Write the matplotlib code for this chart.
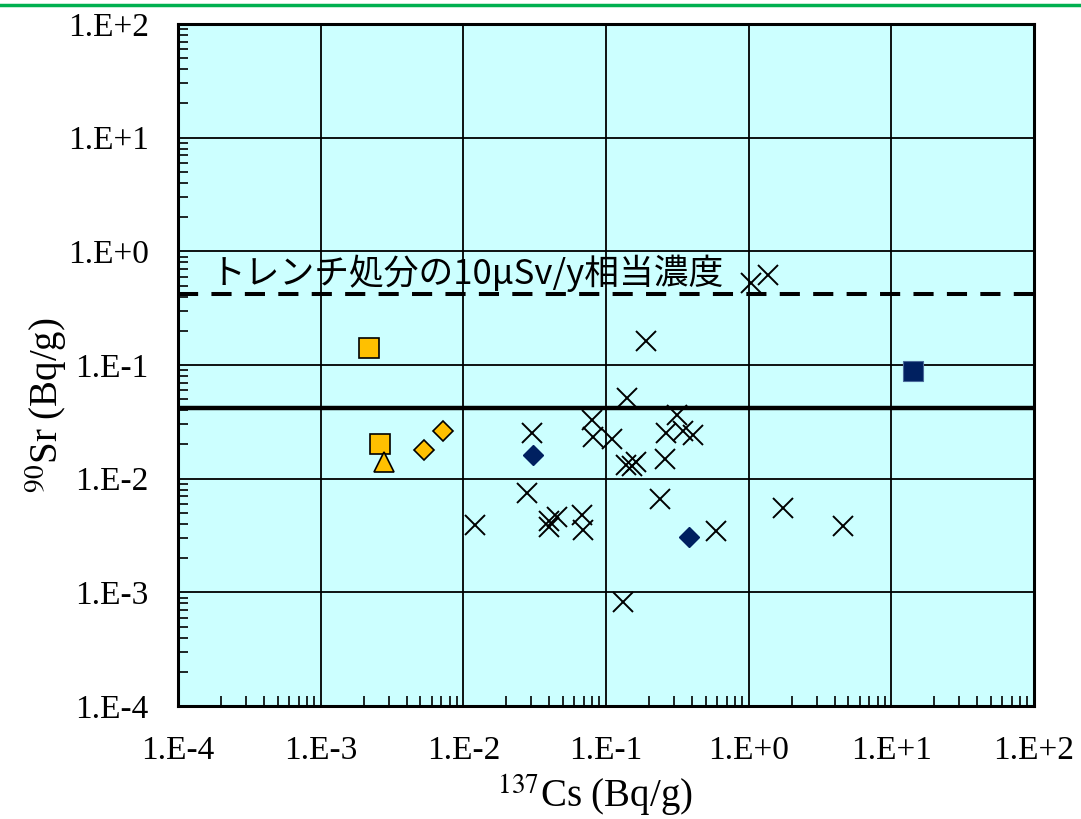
import matplotlib
matplotlib.use('Agg')
import matplotlib.pyplot as plt
from matplotlib.lines import Line2D
import numpy as np

# Cs-137 vs Sr-90 (Bq/g)
cross_cs = [1.04, 1.36, 0.190, 0.141, 0.0301, 0.0792, 0.0813, 0.111, 0.313, 0.263,
            0.348, 0.405, 0.139, 0.153, 0.162, 0.259, 0.0281, 0.0120, 0.0400, 0.0451,
            0.0400, 0.0675, 0.0692, 0.239, 0.586, 1.73, 4.59, 0.132]
cross_sr = [0.524, 0.620, 0.163, 0.0511, 0.0251, 0.0329, 0.0232, 0.0222, 0.0364, 0.0254,
            0.0260, 0.0243, 0.0132, 0.0128, 0.0141, 0.0149, 0.00745, 0.00393, 0.00420, 0.00464,
            0.00379, 0.00481, 0.00355, 0.00660, 0.00343, 0.00551, 0.00385, 0.00083]

y_sq_cs = [0.00218, 0.00261]
y_sq_sr = [0.141, 0.0202]
y_tri_cs = [0.00278]
y_tri_sr = [0.0141]
y_dia_cs = [0.0053, 0.0072]
y_dia_sr = [0.0179, 0.0263]

n_dia_cs = [0.0308, 0.381]
n_dia_sr = [0.0162, 0.00308]
n_sq_cs = [14.2]
n_sq_sr = [0.0887]

limit_10usv = 0.42
limit_solid = 0.042

tick_vals = [1e-4, 1e-3, 1e-2, 1e-1, 1e0, 1e1, 1e2]
tick_labels = ['1.E-4', '1.E-3', '1.E-2', '1.E-1', '1.E+0', '1.E+1', '1.E+2']

plt.rcParams['font.family'] = ['Liberation Serif', 'DejaVu Serif']
plt.rcParams['mathtext.fontset'] = 'stix'

fig = plt.figure(figsize=(10.81, 8.19), dpi=100)
ax = fig.add_axes([178/1081, 1 - 706/819, (1034 - 178)/1081, (706 - 24)/819])
ax.set_facecolor('#CCFFFF')
ax.set_xscale('log')
ax.set_yscale('log')
ax.set_xlim(1e-4, 1e2)
ax.set_ylim(1e-4, 1e2)

ax.grid(True, which='major', color='black', linewidth=1.3)
ax.set_axisbelow(True)

ax.plot(cross_cs, cross_sr, 'x', color='black', ms=14, mew=1.4, zorder=3)
ax.plot(y_sq_cs, y_sq_sr, 's', color='#FFC000', mec='black', ms=14, mew=1.2, zorder=3)
ax.plot(y_tri_cs, y_tri_sr, '^', color='#FFC000', mec='black', ms=15, mew=1.2, zorder=3)
ax.plot(y_dia_cs, y_dia_sr, 'D', color='#FFC000', mec='black', ms=10, mew=1.2, zorder=3)
ax.plot(n_dia_cs, n_dia_sr, 'D', color='#002060', mec='#002060', ms=10, zorder=3)
ax.plot(n_sq_cs, n_sq_sr, 's', color='#002060', mec='#4a6a9a', ms=15, mew=0.8, zorder=3)

ax.axhline(limit_10usv, color='black', linewidth=2.9, dashes=(5, 3.3), zorder=2)
ax.axhline(limit_solid, color='black', linewidth=3.2, zorder=2)

ax.text(1.7e-4, 0.52, 'トレンチ処分の10μSv/y相当濃度', fontsize=25,
        family=['Noto Sans CJK JP', 'DejaVu Sans'], ha='left', va='baseline', zorder=4)

ax.set_xticks(tick_vals)
ax.set_xticklabels(tick_labels)
ax.set_yticks(tick_vals)
ax.set_yticklabels(tick_labels)
ax.tick_params(which='major', length=0, labelsize=24)
ax.tick_params(axis='x', which='major', pad=21)
ax.tick_params(axis='y', which='major', pad=21)
ax.tick_params(which='minor', direction='in', length=7, width=1.2, color='black')
ax.xaxis.set_minor_locator(matplotlib.ticker.LogLocator(base=10, subs=np.arange(2, 10)))
ax.yaxis.set_minor_locator(matplotlib.ticker.LogLocator(base=10, subs=np.arange(2, 10)))
ax.xaxis.set_minor_formatter(matplotlib.ticker.NullFormatter())
ax.yaxis.set_minor_formatter(matplotlib.ticker.NullFormatter())

for s in ax.spines.values():
    s.set_linewidth(2.2)
    s.set_color('black')

ax.set_xlabel(r'$^{137}$Cs (Bq/g)', fontsize=28)
ax.set_ylabel(r'$^{90}$Sr (Bq/g)', fontsize=28)
ax.xaxis.set_label_coords(0.487, -0.098)
ax.yaxis.set_label_coords(-0.127, 0.441)

fig.add_artist(Line2D([0, 1], [1 - 5/819, 1 - 5/819], transform=fig.transFigure,
                      color='#00B050', linewidth=2.5))

fig.savefig('out.png', dpi=100)
